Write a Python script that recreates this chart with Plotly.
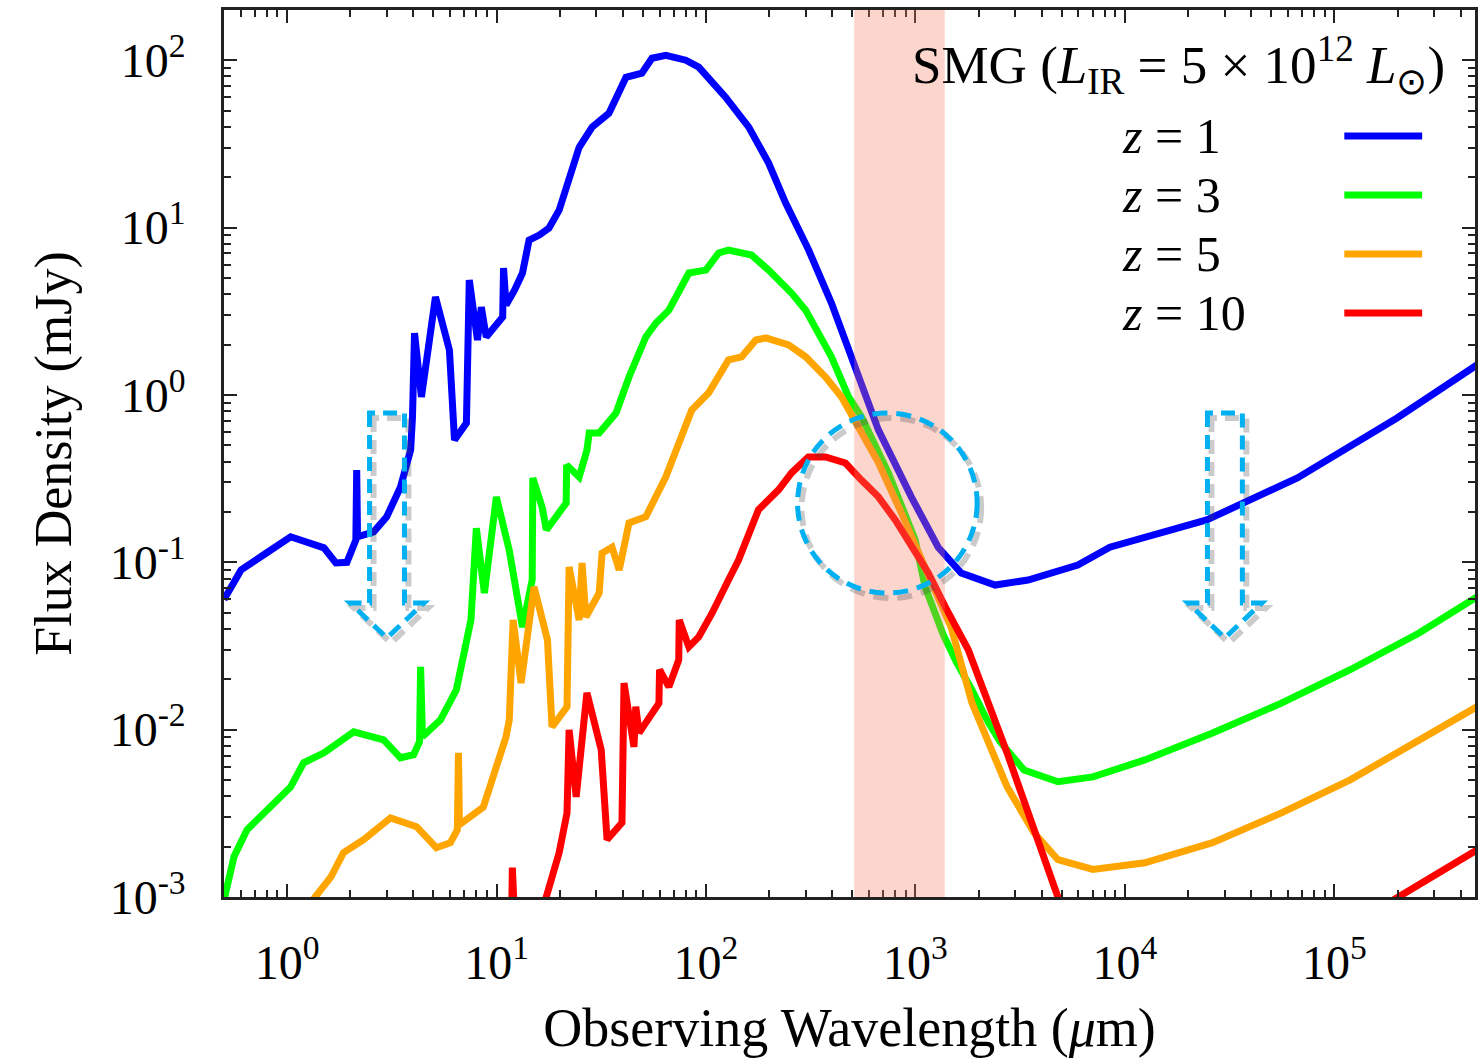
import math
import plotly.graph_objects as go

# Observed-frame SED of a submillimetre galaxy (L_IR = 5e12 L_sun) at four redshifts.
# Wavelengths in micron, flux densities in mJy.
wl_z1 = [0.50, 0.603, 0.80, 1.04, 1.50, 1.71, 1.93, 2.13, 2.15, 2.17, 2.59, 2.99, 3.48, 3.89,
         3.97, 4.06, 4.38, 5.11, 5.96, 6.30, 7.18, 7.41, 8.11, 8.46, 8.93, 10.7, 10.8, 11.1,
         12.2, 13.3, 14.3, 16.0, 17.8, 19.9, 24.8, 28.6, 34.4, 41.5, 49.4, 55.2, 64.3, 80.1,
         92.3, 124, 160, 199, 240, 309, 397, 494, 615, 665, 955, 1283, 1652, 2399, 3444,
         5957, 8470, 24550, 66530, 199000, 478600]
fx_z1 = [0.060, 0.090, 0.114, 0.142, 0.122, 0.099, 0.100, 0.136, 0.356, 0.142, 0.152, 0.187,
         0.282, 0.469, 0.740, 2.34, 0.973, 3.85, 1.85, 0.538, 0.679, 4.86, 2.13, 3.35, 2.22,
         2.92, 5.73, 3.44, 4.24, 5.35, 8.41, 9.02, 9.93, 12.7, 30.2, 39.8, 48.2, 79.1, 83.6,
         102.8, 107, 100, 90.9, 60.1, 39.8, 24.3, 14.0, 7.34, 3.54, 1.69, 0.780, 0.618, 0.246,
         0.123, 0.0863, 0.0731, 0.0783, 0.0962, 0.123, 0.179, 0.319, 0.728, 1.51]

wl_z3 = [0.50, 0.558, 0.644, 0.802, 1.04, 1.20, 1.50, 2.08, 2.89, 3.48, 4.02, 4.29, 4.34, 4.43,
         5.40, 6.43, 7.18, 7.55, 8.01, 8.75, 9.98, 11.5, 13.3, 14.8, 14.9, 16.5, 17.3, 21.5,
         21.6, 24.8, 27.0, 27.7, 30.9, 37.2, 42.9, 51.6, 57.7, 66.5, 82.8, 99.8, 115, 128, 165,
         199, 256, 299, 397, 479, 552, 742, 997, 1112, 1358, 1567, 1862, 2222, 2535, 2924,
         3296, 4786, 7031, 12440, 26190, 55850, 118900, 253500, 478600]
fx_z3 = [0.00096, 0.00174, 0.00252, 0.00332, 0.00455, 0.00634, 0.00727, 0.00970, 0.00869,
         0.00679, 0.00708, 0.00846, 0.0237, 0.00906, 0.01145, 0.0173, 0.0344, 0.0454, 0.160,
         0.0655, 0.2455, 0.118, 0.0410, 0.0783, 0.319, 0.214, 0.156, 0.226, 0.381, 0.323,
         0.467, 0.593, 0.593, 0.780, 1.28, 2.22, 2.69, 3.21, 5.35, 5.57, 7.05, 7.34, 6.85,
         5.57, 4.06, 3.21, 1.69, 0.975, 0.740, 0.342, 0.136, 0.0711, 0.0368, 0.0254, 0.0172,
         0.0111, 0.00847, 0.00679, 0.00574, 0.00488, 0.00522, 0.00659, 0.00955, 0.0144,
         0.0228, 0.0378, 0.0621]

wl_z5 = [1.22, 1.62, 1.86, 2.32, 3.12, 4.15, 5.16, 6.02, 6.50, 6.58, 6.65, 8.65, 11.1, 11.5,
         12.0, 13.1, 15.1, 17.5, 18.4, 21.7, 22.2, 24.8, 25.6, 26.7, 30.9, 31.9, 35.6, 38.5,
         42.9, 47.9, 51.6, 64.3, 76.7, 85.5, 103, 128, 148, 173, 193, 248, 299, 372, 443, 516,
         665, 855, 1112, 1479, 1862, 2735, 3681, 4786, 7031, 12440, 26190, 55850, 118900,
         253500, 478600]
fx_z5 = [0.00084, 0.00132, 0.00184, 0.00220, 0.00297, 0.00263, 0.00197, 0.00211, 0.00252,
         0.00728, 0.00270, 0.00345, 0.00906, 0.0114, 0.0453, 0.0190, 0.0713, 0.0344, 0.0104,
         0.0137, 0.0938, 0.0452, 0.0991, 0.0471, 0.0655, 0.1135, 0.123, 0.0900, 0.172, 0.179,
         0.187, 0.324, 0.593, 0.813, 1.03, 1.62, 1.69, 2.13, 2.19, 1.99, 1.69, 1.28, 0.975,
         0.682, 0.394, 0.198, 0.0938, 0.0410, 0.0144, 0.00456, 0.00242, 0.00167, 0.00146,
         0.00160, 0.00211, 0.00318, 0.00501, 0.00871, 0.0137]

wl_z10 = [11.8, 11.9, 12.2, 16.3, 19.9, 21.7, 22.2, 24.0, 27.0, 31.6, 33.7, 39.7, 40.6, 45.3,
          46.2, 47.9, 59.6, 60.0, 66.5, 74.1, 74.5, 82.8, 92.3, 107, 128, 143, 178, 222, 256,
          308, 372, 463, 552, 665, 801, 955, 1151, 1387, 1786, 2735, 3972, 5333, 160000,
          478600]
fx_z10 = [0.00073, 0.00150, 0.00073, 0.00078, 0.00184, 0.00318, 0.00998, 0.00396, 0.0166,
          0.00759, 0.00220, 0.00278, 0.0190, 0.00789, 0.0137, 0.00957, 0.0144, 0.0228, 0.0180,
          0.0261, 0.0452, 0.0312, 0.0358, 0.0498, 0.0783, 0.103, 0.206, 0.271, 0.342, 0.426,
          0.426, 0.392, 0.310, 0.246, 0.179, 0.123, 0.0863, 0.0541, 0.0300, 0.00728, 0.00184,
          0.00068, 0.00084, 0.00191]

redshift_labels = ["1", "3", "5", "10"]
series_wl = [wl_z1, wl_z3, wl_z5, wl_z10]
series_fx = [fx_z1, fx_z3, fx_z5, fx_z10]
series_colors = ["#0000FF", "#00FF00", "#FFA500", "#FF0000"]

# Highlighted (sub)millimetre window, micron
band_um = [510, 1380]

x_tick_vals = [1, 10, 100, 1e3, 1e4, 1e5]
x_tick_text = ["10<sup>0</sup>", "10<sup>1</sup>", "10<sup>2</sup>",
               "10<sup>3</sup>", "10<sup>4</sup>", "10<sup>5</sup>"]
y_tick_vals = [1e-3, 1e-2, 1e-1, 1, 10, 100]
y_tick_text = ["10<sup>-3</sup>", "10<sup>-2</sup>", "10<sup>-1</sup>",
               "10<sup>0</sup>", "10<sup>1</sup>", "10<sup>2</sup>"]

# Guide marks: downward arrows at 3 micron and 3 cm, circle round the crossing point
arrow_wl = [3.0, 3.0e4]
arrow_top_mjy = 0.78
arrow_tip_mjy = 0.0353
circle_wl, circle_mjy = 734, 0.226

FONT = "Liberation Serif, Times New Roman, serif"
W, H = 1480, 1058
M_L, M_R, M_T, M_B = 224, 2, 10, 161
PW, PH = W - M_L - M_R, H - M_T - M_B
X_RANGE = [math.log10(0.5), 5.671]
Y_RANGE = [-3.0, 2.3]
CYAN = "#00B0F0"


def xf(wl):
    return (math.log10(wl) - X_RANGE[0]) / (X_RANGE[1] - X_RANGE[0])


def yf(f):
    return (math.log10(f) - Y_RANGE[0]) / (Y_RANGE[1] - Y_RANGE[0])


fig = go.Figure()
for wl, fx, col, z in zip(series_wl, series_fx, series_colors, redshift_labels):
    fig.add_trace(go.Scatter(x=wl, y=fx, mode="lines", name=f"z = {z}",
                             line=dict(color=col, width=7), showlegend=False))

shapes = []

# translucent band laid over the curves
shapes.append(dict(type="rect", xref="x", yref="paper", x0=band_um[0], x1=band_um[1],
                   y0=0, y1=1, fillcolor="rgb(245,125,100)", opacity=0.32,
                   line=dict(width=0), layer="above"))


def arrow_path(wl, dx_px=0.0, dy_px=0.0):
    cx = xf(wl) + dx_px / PW
    yt = yf(arrow_top_mjy) - dy_px / PH
    ytip = yf(arrow_tip_mjy) - dy_px / PH
    yb = ytip + 35.0 / PH
    sh, wg = 17.5 / PW, 37.0 / PW
    pts = [(cx - sh, yt), (cx - sh, yb), (cx - wg, yb), (cx, ytip),
           (cx + wg, yb), (cx + sh, yb), (cx + sh, yt)]
    return "M " + " L ".join(f"{a:.5f},{b:.5f}" for a, b in pts) + " Z"


def circle_shape(dx_px, dy_px, color, width):
    cx = xf(circle_wl) + dx_px / PW
    cy = yf(circle_mjy) - dy_px / PH
    r = 90.0
    return dict(type="circle", xref="paper", yref="paper",
                x0=cx - r / PW, x1=cx + r / PW, y0=cy - r / PH, y1=cy + r / PH,
                line=dict(color=color, width=width, dash="15px,9px"), layer="above")


shadow = "rgba(70,70,70,0.28)"
for wl in arrow_wl:
    shapes.append(dict(type="path", xref="paper", yref="paper", path=arrow_path(wl, 4, 5),
                       line=dict(color=shadow, width=6, dash="14px,8px"), layer="above"))
shapes.append(circle_shape(4, 5, shadow, 6))
for wl in arrow_wl:
    shapes.append(dict(type="path", xref="paper", yref="paper", path=arrow_path(wl),
                       line=dict(color=CYAN, width=5, dash="14px,8px"), layer="above"))
shapes.append(circle_shape(0, 0, CYAN, 5))

# key: labels on the left, line samples on the right
key_rows = [0.858, 0.7915, 0.725, 0.6585]
key_x0, key_x1 = (1347 - M_L) / PW, (1425 - M_L) / PW
annotations = []
for yrow, col, z in zip(key_rows, series_colors, redshift_labels):
    shapes.append(dict(type="line", xref="paper", yref="paper", x0=key_x0, x1=key_x1,
                       y0=yrow, y1=yrow, line=dict(color=col, width=7), layer="above"))
    annotations.append(dict(xref="paper", yref="paper", x=(1122 - M_L) / PW, y=yrow,
                            xanchor="left", yanchor="middle", showarrow=False,
                            text=f"<i>z</i> = {z}", font=dict(family=FONT, size=50, color="black")))

annotations.append(dict(xref="paper", yref="paper", x=(1450 - M_L) / PW, y=0.938,
                        xanchor="right", yanchor="middle", showarrow=False,
                        text="SMG (<i>L</i><sub>IR</sub> = 5 × 10<sup>12</sup> <i>L</i><sub>⊙</sub>)",
                        font=dict(family=FONT, size=53, color="black")))

axis_common = dict(type="log", showgrid=False, zeroline=False, showline=True,
                   linecolor="#222222", linewidth=2.5, mirror="allticks",
                   ticks="inside", ticklen=13, tickwidth=2, tickcolor="#222222",
                   minor=dict(ticks="inside", ticklen=7, tickwidth=1.5,
                              tickcolor="#222222", dtick="D1", showgrid=False),
                   tickfont=dict(family=FONT, size=48, color="black"))

fig.update_layout(
    width=W, height=H,
    margin=dict(l=M_L, r=M_R, t=M_T, b=M_B),
    paper_bgcolor="white", plot_bgcolor="white",
    font=dict(family=FONT, color="black"),
    xaxis=dict(axis_common, range=X_RANGE, tickvals=x_tick_vals, ticktext=x_tick_text,
               ticklabelstandoff=22,
               title=dict(text="Observing Wavelength (<i>μ</i>m)", standoff=20,
                          font=dict(family=FONT, size=54, color="black"))),
    yaxis=dict(axis_common, range=Y_RANGE, tickvals=y_tick_vals, ticktext=y_tick_text,
               ticklabelstandoff=26,
               title=dict(text="Flux Density (mJy)", standoff=22,
                          font=dict(family=FONT, size=52, color="black"))),
    shapes=shapes,
    annotations=annotations,
)

fig.write_html("out.html")
